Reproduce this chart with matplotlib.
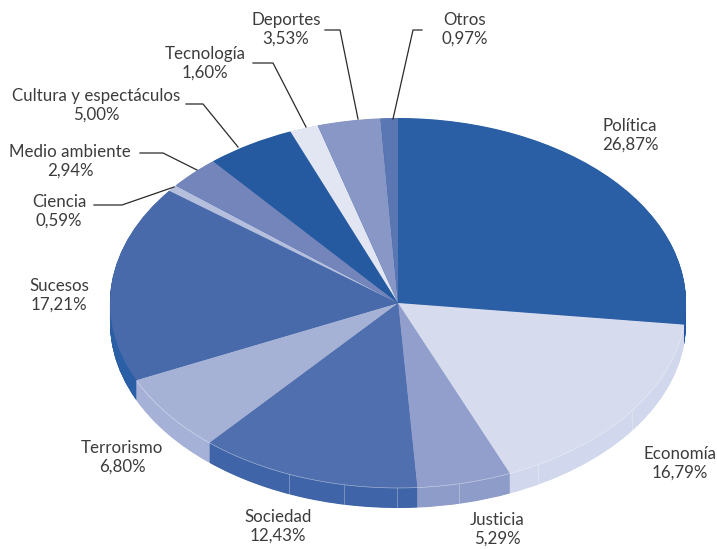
import numpy as np
import matplotlib
matplotlib.use("Agg")
import matplotlib.pyplot as plt
from matplotlib.transforms import Affine2D

categories = ["Política", "Economía", "Justicia", "Sociedad", "Terrorismo", "Sucesos",
              "Ciencia", "Medio ambiente", "Cultura y espectáculos", "Tecnología", "Deportes", "Otros"]
values = [26.87, 16.79, 5.29, 12.43, 6.80, 17.21, 0.59, 2.94, 5.00, 1.60, 3.53, 0.97]
value_labels = ["26,87%", "16,79%", "5,29%", "12,43%", "6,80%", "17,21%",
                "0,59%", "2,94%", "5,00%", "1,60%", "3,53%", "0,97%"]
top_colors = ["#2b5fa5", "#d6dbee", "#929fcc", "#4f6fae", "#a6b1d6", "#486aab",
              "#b5bedd", "#7485bb", "#265aa0", "#e2e6f3", "#8997c6", "#5a76b3"]
wall_colors = ["#2558a0", "#d1d7ec", "#8d9cc8", "#3f64a8", "#a5b1d6", "#2a5fa5",
               "#2a5fa5", "#2a5fa5", "#2a5fa5", "#2a5fa5", "#2a5fa5", "#2a5fa5"]

# label centre in pixels (x, y of first line)
label_pos = [(630, 126), (680, 454), (497, 520), (278, 517), (122, 448), (59, 286),
             (59, 202), (70, 152), (96, 96), (205, 54), (286, 20), (465, 20)]
# leader polylines in pixels, for the labels that have one
leaders = {
    "Ciencia": [(94, 205), (122, 205), (174, 187)],
    "Medio ambiente": [(140, 153), (163, 153), (197, 170)],
    "Cultura y espectáculos": [(186, 104), (203, 104), (238, 147)],
    "Tecnología": [(253, 63), (273, 63), (306, 127)],
    "Deportes": [(325, 30), (340, 30), (358, 119)],
    "Otros": [(422, 30), (413, 30), (393, 119)],
}
# thin seams on the side wall (clockwise degrees from 12 o'clock)
wall_seams = [125.7, 150.9, 167.8, 180.2, 190.8, 202.2]

W, H = 717, 549
CX, CY, RX, RY, DEPTH = 398, 303, 288, 185, 20

fig = plt.figure(figsize=(W / 100, H / 100), dpi=100, facecolor="white")
ax = fig.add_axes([0, 0, 1, 1])
px = Affine2D().scale(1, -1).translate(0, H)  # pixel coords, y downwards

for d in np.arange(DEPTH, 0, -0.5):
    ax.pie(values, colors=wall_colors, startangle=90, counterclock=False,
           center=(0, -d / RY), radius=1, wedgeprops=dict(linewidth=0))
ax.pie(values, colors=top_colors, startangle=90, counterclock=False,
       center=(0, 0), radius=1, wedgeprops=dict(linewidth=0))

ax.set_aspect("auto")
ax.set_xlim(-CX / RX, (W - CX) / RX)
ax.set_ylim((CY - H) / RY, CY / RY)
ax.axis("off")

# thin light rim and seams on the wall
rim = np.radians(np.linspace(97, 245, 300))
ax.plot(np.sin(rim), np.cos(rim), color="white", lw=0.4, alpha=0.6, zorder=5)
for s in wall_seams:
    a = np.radians(s)
    ax.plot([np.sin(a)] * 2, [np.cos(a), np.cos(a) - DEPTH / RY],
            color="white", lw=0.4, alpha=0.5, zorder=5)

font = dict(family="Lato", fontsize=12.15, color="#3c3c3c", ha="center", va="center",
            transform=px)
for name, vlab, (x, y) in zip(categories, value_labels, label_pos):
    fig.text(x, y, name, **font)
    fig.text(x, y + 19, vlab, **font)

for pts in leaders.values():
    xs, ys = zip(*pts)
    fig.add_artist(plt.Line2D(xs, ys, color="#2a2a2a", lw=0.9, transform=px, zorder=6))

fig.savefig("out.png", dpi=100, facecolor="white")
